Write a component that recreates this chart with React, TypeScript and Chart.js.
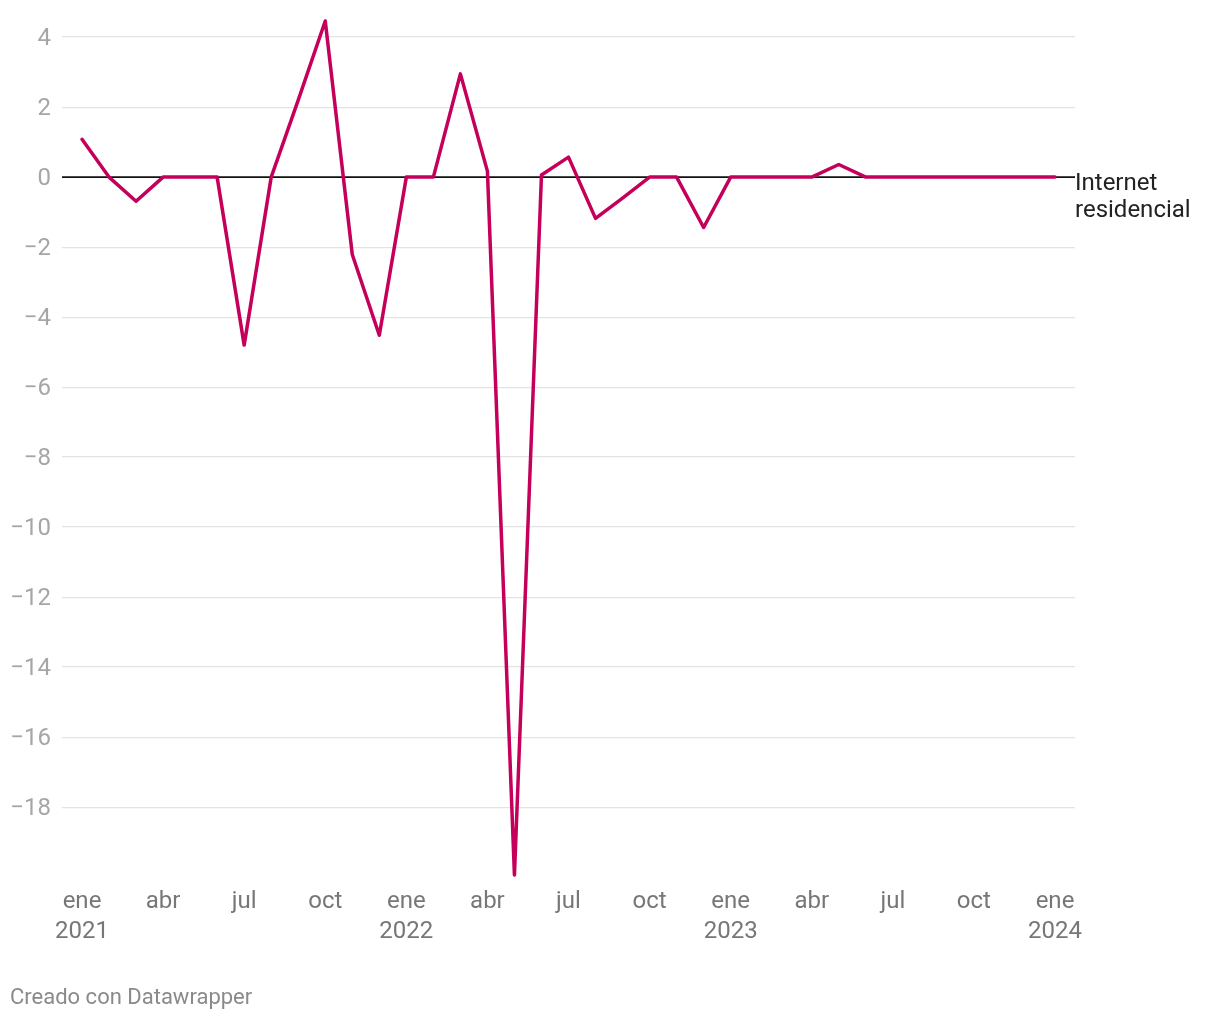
import React, { useEffect, useRef } from "react";
import { Chart, registerables } from "chart.js";

Chart.register(...registerables);

const months: string[] = [
  "ene 2021", "feb 2021", "mar 2021", "abr 2021", "may 2021", "jun 2021",
  "jul 2021", "ago 2021", "sep 2021", "oct 2021", "nov 2021", "dic 2021",
  "ene 2022", "feb 2022", "mar 2022", "abr 2022", "may 2022", "jun 2022",
  "jul 2022", "ago 2022", "sep 2022", "oct 2022", "nov 2022", "dic 2022",
  "ene 2023", "feb 2023", "mar 2023", "abr 2023", "may 2023", "jun 2023",
  "jul 2023", "ago 2023", "sep 2023", "oct 2023", "nov 2023", "dic 2023",
  "ene 2024",
];

const internetResidencial: number[] = [
  1.08, 0, -0.69, 0, 0, 0,
  -4.8, 0, 2.2, 4.46, -2.21, -4.52,
  0, 0, 2.95, 0.17, -19.94, 0.06,
  0.57, -1.18, -0.6, 0, 0, -1.44,
  0, 0, 0, 0, 0.36, 0,
  0, 0, 0, 0, 0, 0,
  0,
];

const xTickIndices: number[] = [0, 3, 6, 9, 12, 15, 18, 21, 24, 27, 30, 33, 36];
const xTickLabels: (string | string[])[] = [
  ["ene", "2021"], "abr", "jul", "oct",
  ["ene", "2022"], "abr", "jul", "oct",
  ["ene", "2023"], "abr", "jul", "oct",
  ["ene", "2024"],
];
const yTickValues: number[] = [-18, -16, -14, -12, -10, -8, -6, -4, -2, 0, 2, 4];
const seriesLabel: string[] = ["Internet", "residencial"];

const FONT = "Roboto, 'Noto Sans', sans-serif";

export default function App() {
  const canvasRef = useRef<HTMLCanvasElement | null>(null);

  useEffect(() => {
    const canvas = canvasRef.current;
    if (!canvas) return;

    const labelPlugin = {
      id: "lineLabel",
      afterDatasetsDraw(chart: any) {
        const { ctx, chartArea } = chart;
        const yScale = chart.scales.y;
        const last = internetResidencial[internetResidencial.length - 1];
        const y = yScale.getPixelForValue(last);
        ctx.save();
        ctx.font = `24px ${FONT}`;
        ctx.fillStyle = "#222222";
        ctx.textAlign = "left";
        ctx.textBaseline = "middle";
        seriesLabel.forEach((t, i) => {
          ctx.fillText(t, chartArea.right, y + 7 + i * 27);
        });
        ctx.restore();
      },
    };

    const zeroLinePlugin = {
      id: "zeroLine",
      beforeDatasetsDraw(chart: any) {
        const { ctx, chartArea } = chart;
        const y = chart.scales.y.getPixelForValue(0);
        ctx.save();
        ctx.strokeStyle = "#111111";
        ctx.lineWidth = 1.6;
        ctx.beginPath();
        ctx.moveTo(chartArea.left, y);
        ctx.lineTo(chartArea.right, y);
        ctx.stroke();
        ctx.restore();
      },
    };

    const chart = new Chart(canvas, {
      type: "line",
      data: {
        datasets: [
          {
            label: "Internet residencial",
            data: internetResidencial.map((v, i) => ({ x: i, y: v })),
            borderColor: "#c5005a",
            backgroundColor: "#c5005a",
            borderWidth: 3.5,
            pointRadius: 0,
            borderJoinStyle: "round",
            borderCapStyle: "round",
            tension: 0,
            clip: false as any,
          },
        ],
      },
      options: {
        animation: false,
        responsive: false,
        maintainAspectRatio: false,
        layout: { padding: { top: 21, right: 145, bottom: 0, left: 0 } },
        plugins: {
          legend: { display: false },
          tooltip: { enabled: false },
        },
        scales: {
          x: {
            type: "linear",
            min: -0.74,
            max: 36.74,
            afterBuildTicks: (scale: any) => {
              scale.ticks = xTickIndices.map((v) => ({ value: v }));
            },
            afterFit: (scale: any) => {
              scale.height = 145;
              scale.paddingLeft = 0;
              scale.paddingRight = 0;
            },
            grid: { display: false, drawTicks: false },
            border: { display: false },
            ticks: {
              autoSkip: false,
              maxRotation: 0,
              minRotation: 0,
              padding: 12,
              color: "#777777",
              font: { family: FONT, size: 24, lineHeight: 1.25 },
              callback: (value: any) => {
                const idx = xTickIndices.indexOf(Number(value));
                return idx >= 0 ? xTickLabels[idx] : "";
              },
            },
          },
          y: {
            type: "linear",
            min: -19.94,
            max: 4.46,
            afterBuildTicks: (scale: any) => {
              scale.ticks = yTickValues.map((v) => ({ value: v }));
            },
            afterFit: (scale: any) => {
              scale.width = 62;
              scale.paddingTop = 0;
              scale.paddingBottom = 0;
            },
            grid: {
              drawTicks: false,
              color: (c: any) => (c.tick && c.tick.value === 0 ? "rgba(0,0,0,0)" : "#e3e3e3"),
              lineWidth: 1.2,
            },
            border: { display: false },
            ticks: {
              padding: 11,
              labelOffset: 2,
              color: "#a6a6a6",
              font: { family: FONT, size: 24 },
              callback: (value: any) => {
                const n = Number(value);
                return n < 0 ? "\u2212" + Math.abs(n) : String(n);
              },
            },
          },
        },
      },
      plugins: [zeroLinePlugin, labelPlugin],
    });

    return () => chart.destroy();
  }, []);

  return (
    <div style={{ position: "absolute", left: 0, top: 0, width: 1220, height: 1020, background: "#ffffff" }}>
      <canvas ref={canvasRef} width={1220} height={1020} style={{ display: "block" }} />
      <div
        style={{
          position: "absolute",
          left: 10,
          top: 983,
          fontFamily: FONT,
          fontSize: 22,
          color: "#8a8a8a",
          lineHeight: "28px",
          whiteSpace: "nowrap",
        }}
      >
        Creado con Datawrapper
      </div>
    </div>
  );
}
